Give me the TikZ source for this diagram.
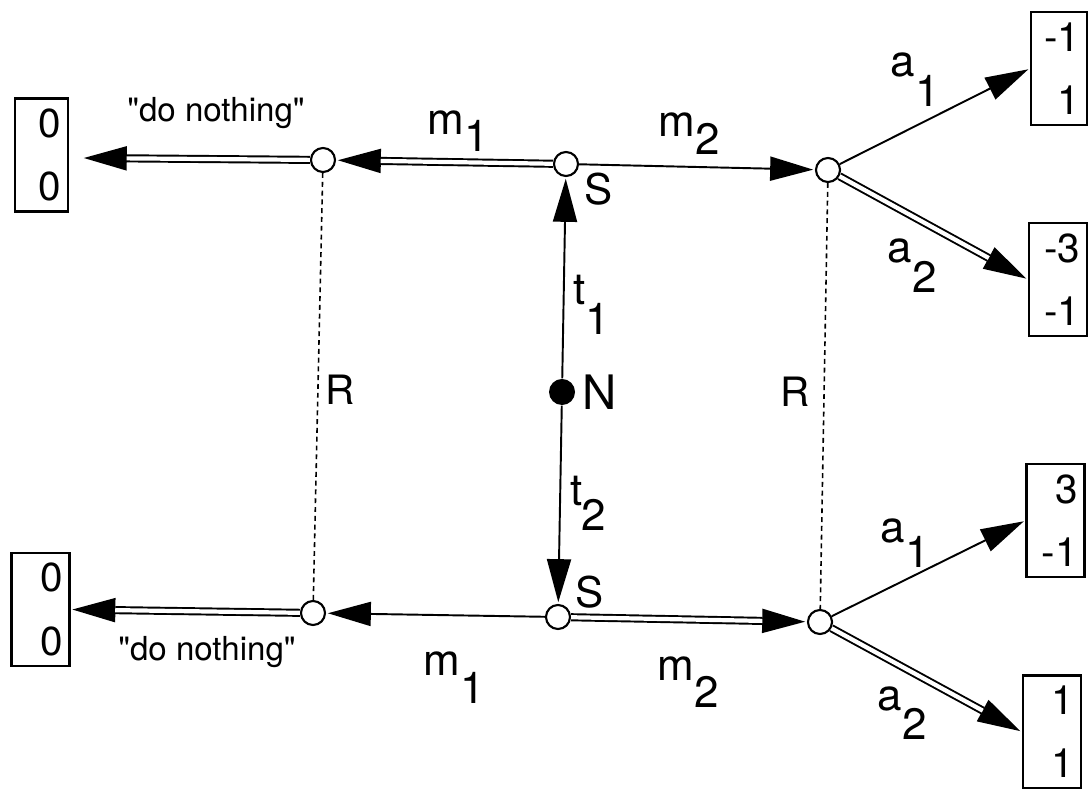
\documentclass[tikz,border=0pt]{standalone}
\usepackage{fontspec}
\setmainfont{TeX Gyre Heros}
\usetikzlibrary{arrows.meta}
\newcommand\sublab[3]{#1\raisebox{-#3}{#2}}
\newcommand\dblarr[2]{\draw[arr] (#1) -- (#2); \draw[dbl] (#1) -- (#2);}
\begin{document}
\begin{tikzpicture}[x=0.01cm,y=-0.01cm,
  info/.style={circle, draw, fill=white, line width=0.6pt, minimum size=0.24cm, inner sep=0pt},
  chance/.style={circle, fill=black, minimum size=0.26cm, inner sep=0pt},
  pay/.style={draw, line width=0.6pt, minimum height=1.13cm, inner xsep=0.07cm, inner ysep=0pt,
     text width=0.44cm, align=right, font=\fontsize{11.5}{18}\selectfont},
  lab/.style={inner sep=0pt, font=\fontsize{12.5}{15}\selectfont},
  slab/.style={inner sep=0pt, font=\fontsize{12}{14}\selectfont},
  dn/.style={inner sep=0pt, font=\fontsize{9.4}{11}\selectfont},
  arr/.style={line width=0.55pt, -{Triangle[length=0.43cm,width=0.24cm]}, shorten >=0.5pt},
  dbl/.style={line width=0.55pt, double, double distance=1.2pt, shorten >=12.7pt},
  dots/.style={line width=0.45pt, dash pattern=on 1.4pt off 1.1pt}]
\useasboundingbox (0,0) rectangle (1089,789);
% decision / information nodes
\node[info] (s1) at (566,164) {};
\node[info] (i1l) at (323,160) {};
\node[info] (i1r) at (828,170) {};
\node[chance] (n) at (562,392) {};
\node[info] (s2) at (558,617) {};
\node[info] (i2l) at (313,613) {};
\node[info] (i2r) at (820,622) {};
% payoff boxes
\node[pay, text width=0.39cm] (bl1) at (41.5,155) {0\\0};
\node[pay] (bl2) at (40.5,609.5) {0\\0};
\node[pay, text width=0.42cm] (br1a) at (1059,68.5) {-1\\1};
\node[pay] (br1b) at (1058,279.5) {-3\\-1};
\node[pay] (br2a) at (1055.5,520.5) {3\\-1};
\node[pay] (br2b) at (1052,732) {1\\1};
\coordinate (bl1tip) at (82,158);
% connectors
\dblarr{s1}{i1l}
\dblarr{i1l}{bl1tip}
\draw[arr] (s1) -- (i1r);
\draw[arr] (i1r) -- (br1a.west);
\dblarr{i1r}{br1b.west}
\draw[arr] (n) -- (s1);
\draw[arr] (n) -- (s2);
\draw[arr] (s2) -- (i2l);
\dblarr{i2l}{bl2.east}
\dblarr{s2}{i2r}
\draw[arr] (i2r) -- (br2a.west);
\dblarr{i2r}{br2b.west}
\draw[dots] (i1l) -- (i2l);
\draw[dots] (i1r) -- (i2r);
% labels
\node[dn, anchor=base] (dn1) at (216,122) {\textquotedbl do nothing\textquotedbl};
\node[dn, anchor=base] (dn2) at (207,660) {\textquotedbl do nothing\textquotedbl};
\node[lab, anchor=base west] (lm1t) at (427,135) {\sublab{m}{1}{4.8pt}};
\node[lab, anchor=base west] (lm2t) at (658,137) {\sublab{m}{2}{5pt}};
\node[lab, anchor=base west] (lm1b) at (423,675) {\sublab{m}{1}{8pt}};
\node[lab, anchor=base west] (lm2b) at (657,680) {\sublab{m}{2}{7.7pt}};
\node[lab, anchor=base west] (la1t) at (890,77) {\sublab{a}{1}{8.5pt}};
\node[lab, anchor=base west] (la2t) at (887,263) {\sublab{a}{2}{8.5pt}};
\node[lab, anchor=base west] (la1b) at (880,543) {\sublab{a}{1}{7pt}};
\node[lab, anchor=base west] (la2b) at (877,710) {\sublab{a}{2}{8.5pt}};
\node[lab, anchor=base west] (lt1) at (573,305) {\sublab{t}{1}{8.5pt}};
\node[lab, anchor=base west] (lt2) at (570,506) {t\kern-0.5pt\raisebox{-7pt}{2}};
\node[slab] (ls1) at (599,189) {S};
\node[slab] (ls2) at (590,592) {S};
\node[inner sep=0pt, font=\fontsize{13.5}{15}\selectfont] (ln) at (600,392) {N};
\node[inner sep=0pt, font=\fontsize{11.5}{14}\selectfont] (lrl) at (340,390) {R};
\node[inner sep=0pt, font=\fontsize{11.5}{14}\selectfont] (lrr) at (795,392) {R};
\end{tikzpicture}
\end{document}
